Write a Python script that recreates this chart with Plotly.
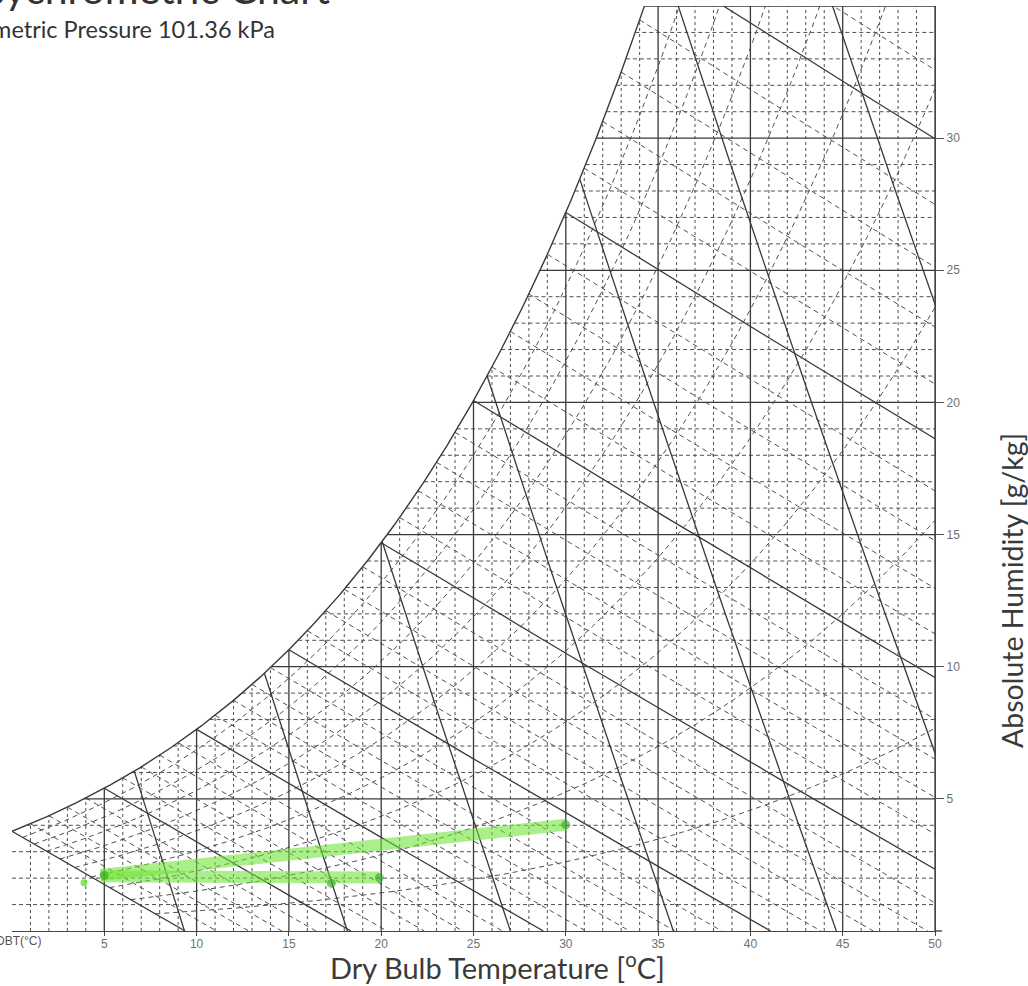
import math
import plotly.graph_objects as go

# ---------------- chart parameters & values ----------------
P_KPA = 101.36                      # barometric pressure of the chart
T_RANGE = [0, 50]                   # dry bulb range (degC)
W_RANGE = [0, 35]                   # absolute humidity range (g/kg)

DRY_BULB_TICKS = [5, 10, 15, 20, 25, 30, 35, 40, 45, 50]
HUMIDITY_TICKS = [5, 10, 15, 20, 25, 30]
DRY_BULB_MAJOR = [5, 10, 15, 20, 25, 30, 35, 40, 45, 50]
DRY_BULB_MINOR = [t for t in range(1, 50) if t % 5 != 0]
HUMIDITY_MAJOR = [5, 10, 15, 20, 25, 30]
HUMIDITY_MINOR = [w for w in range(1, 35) if w % 5 != 0]
RH_LEVELS = [10, 20, 30, 40, 50, 60, 70, 80, 90]            # %
WET_BULB_MAJOR = [0, 5, 10, 15, 20, 25, 30, 35]             # degC
WET_BULB_MINOR = [t for t in range(1, 37) if t % 5 != 0]    # degC
VOLUME_LEVELS = [0.800, 0.825, 0.850, 0.875, 0.900, 0.925, 0.950]  # m3/kg

# green highlighted process
PROC_A_T = [4.8, 30.0]
PROC_A_W = [2.12, 4.02]
PROC_B_T = [4.8, 19.9]
PROC_B_W = [2.07, 2.02]
PROC_PTS_T = [5.0, 17.3, 19.9, 30.0]
PROC_PTS_W = [2.10, 1.80, 2.02, 4.02]
PROC_DOT_T = [3.9]
PROC_DOT_W = [1.83]

RA = 0.287042


# ---------------- psychrometric relations (define the chart's coordinates) ----------------
def psat(t):
    return 0.61121 * math.exp((18.678 - t / 234.5) * (t / (257.14 + t)))


def ws(t):
    ps = psat(t)
    return 622.0 * ps / (P_KPA - ps)


def w_rh(t, rh):
    pw = rh / 100.0 * psat(t)
    return 622.0 * pw / (P_KPA - pw)


def bisect(f, a, b, n=60):
    fa = f(a)
    for _ in range(n):
        m = 0.5 * (a + b)
        fm = f(m)
        if (fm > 0) == (fa > 0):
            a, fa = m, fm
        else:
            b = m
    return 0.5 * (a + b)


def tdew(w):
    return bisect(lambda t: ws(t) - w, -40, 80)


def w_wetbulb(t, twb):
    wsw = ws(twb) / 1000.0
    return 1000.0 * ((2501 - 2.326 * twb) * wsw - 1.006 * (t - twb)) / (2501 + 1.86 * t - 4.186 * twb)


def w_volume(t, v):
    return 1000.0 * (v * P_KPA / (RA * (t + 273.15)) - 1.0) / 1.6078


def frange(a, b, n):
    return [a + (b - a) * i / n for i in range(n + 1)]


# ---------------- build line sets ----------------
def verticals(levels):
    xs, ys = [], []
    for t in levels:
        xs += [t, t, None]
        ys += [0, min(ws(t), 40), None]
    return xs, ys


def horizontals(levels):
    xs, ys = [], []
    for w in levels:
        xs += [max(T_RANGE[0], tdew(w)), T_RANGE[1], None]
        ys += [w, w, None]
    return xs, ys


def wetbulbs(levels):
    xs, ys = [], []
    for twb in levels:
        t_end = bisect(lambda t: w_wetbulb(t, twb), twb, 200)
        t_end = min(t_end, T_RANGE[1])
        for t in frange(twb, t_end, 30):
            xs.append(t)
            ys.append(w_wetbulb(t, twb))
        xs.append(None)
        ys.append(None)
    return xs, ys


def rh_curves(levels):
    xs, ys = [], []
    for rh in levels:
        # chart domain: right of the 0 degC wet-bulb line
        t0 = bisect(lambda t: w_rh(t, rh) - w_wetbulb(t, 0), 0, 9.5)
        for t in frange(t0, T_RANGE[1], 200):
            xs.append(t)
            ys.append(w_rh(t, rh))
        xs.append(None)
        ys.append(None)
    return xs, ys


def volumes(levels):
    xs, ys = [], []
    for v in levels:
        t_sat = bisect(lambda t: w_volume(t, v) - ws(t), -20, 70)
        t_zero = v * P_KPA / RA - 273.15
        for t in frange(t_sat, t_zero, 60):
            xs.append(t)
            ys.append(w_volume(t, v))
        xs.append(None)
        ys.append(None)
    return xs, ys


SOLID = "#3a3a3a"
DASHC = "#505050"

fig = go.Figure()


def add(xy, color, width, dash="solid"):
    fig.add_trace(go.Scatter(x=xy[0], y=xy[1], mode="lines",
                             line=dict(color=color, width=width, dash=dash),
                             hoverinfo="skip", showlegend=False))


add(verticals(DRY_BULB_MINOR), DASHC, 1.0, "3px,3px")
add(horizontals(HUMIDITY_MINOR), DASHC, 1.0, "4px,3px")
add(rh_curves(RH_LEVELS), DASHC, 1.0, "5px,4px")
add(wetbulbs(WET_BULB_MINOR), DASHC, 1.0, "5px,4px")

add(verticals(DRY_BULB_MAJOR), SOLID, 1.3)
add(horizontals(HUMIDITY_MAJOR), SOLID, 1.3)
add(wetbulbs(WET_BULB_MAJOR), SOLID, 1.3)
add(volumes(VOLUME_LEVELS), SOLID, 1.3)

sat_t = frange(T_RANGE[0], 36, 360)
add((sat_t, [ws(t) for t in sat_t]), SOLID, 1.4)
add(([tdew(W_RANGE[1]), T_RANGE[1]], [W_RANGE[1], W_RANGE[1]]), SOLID, 1.6)

# green highlighter process
for tx, wy in ((PROC_B_T, PROC_B_W), (PROC_A_T, PROC_A_W)):
    fig.add_trace(go.Scatter(x=tx, y=wy, mode="lines",
                             line=dict(color="rgba(110,228,55,0.58)", width=12),
                             hoverinfo="skip", showlegend=False))
fig.add_trace(go.Scatter(x=PROC_PTS_T, y=PROC_PTS_W, mode="markers",
                         marker=dict(color="rgba(45,165,35,0.6)", size=9),
                         hoverinfo="skip", showlegend=False))
fig.add_trace(go.Scatter(x=PROC_DOT_T, y=PROC_DOT_W, mode="markers",
                         marker=dict(color="rgba(105,225,45,0.8)", size=7),
                         hoverinfo="skip", showlegend=False))

TEXT_FONT = "Lato, 'Open Sans', sans-serif"
TICK_FONT = dict(family="Liberation Sans, Arial, sans-serif", size=12, color="#707070")

fig.update_layout(
    width=1028, height=986,
    margin=dict(l=12, r=93, t=6, b=55),
    paper_bgcolor="white", plot_bgcolor="white",
    xaxis=dict(range=T_RANGE, tickvals=DRY_BULB_TICKS, ticktext=[str(t) for t in DRY_BULB_TICKS],
               showgrid=False, zeroline=False, showline=True, linecolor="#444", linewidth=1.4,
               ticks="outside", ticklen=4, tickcolor="#444", tickfont=TICK_FONT,
               ticklabelstandoff=-3),
    yaxis=dict(range=W_RANGE, tickvals=HUMIDITY_TICKS, ticktext=[str(w) for w in HUMIDITY_TICKS],
               side="right", showgrid=False, zeroline=False, showline=True, linecolor="#444",
               linewidth=1.3, ticks="outside", ticklen=8, tickcolor="#555", tickfont=TICK_FONT),
    shapes=[dict(type="line", xref="paper", yref="paper", x0=1, x1=1 + 7 / 923, y0=0, y1=0,
                 line=dict(color="#444", width=1.4))],
    annotations=[
        dict(text="Psychrometric Chart", xref="paper", yref="paper", x=(332 - 12) / 923,
             y=(931 - 15) / 925, xanchor="right", yanchor="bottom", showarrow=False,
             font=dict(family=TEXT_FONT, size=41, color="#333")),
        dict(text="Barometric Pressure 101.36 kPa", xref="paper", yref="paper", x=(277 - 12) / 923,
             y=(931 - 29) / 925, xanchor="right", yanchor="middle", showarrow=False,
             font=dict(family=TEXT_FONT, size=23.5, color="#333")),
        dict(text="DBT(°C)", xref="paper", yref="paper", x=(43 - 12) / 923, y=(931 - 941) / 925,
             xanchor="right", yanchor="middle", showarrow=False,
             font=dict(family="Liberation Sans, Arial, sans-serif", size=12, color="#555")),
        dict(text="Dry Bulb Temperature [<sup>o</sup>C]", xref="paper", yref="paper",
             x=(497 - 12) / 923, y=(931 - 966) / 925, xanchor="center", yanchor="middle",
             showarrow=False, font=dict(family=TEXT_FONT, size=29, color="#3a3a3a")),
        dict(text="Absolute Humidity [g/kg]", xref="paper", yref="paper", textangle=-90,
             x=(1012 - 12) / 923, y=(931 - 591) / 925, xanchor="center", yanchor="middle",
             showarrow=False, font=dict(family=TEXT_FONT, size=28.5, color="#3a3a3a")),
    ],
)

fig.write_html("out.html")
